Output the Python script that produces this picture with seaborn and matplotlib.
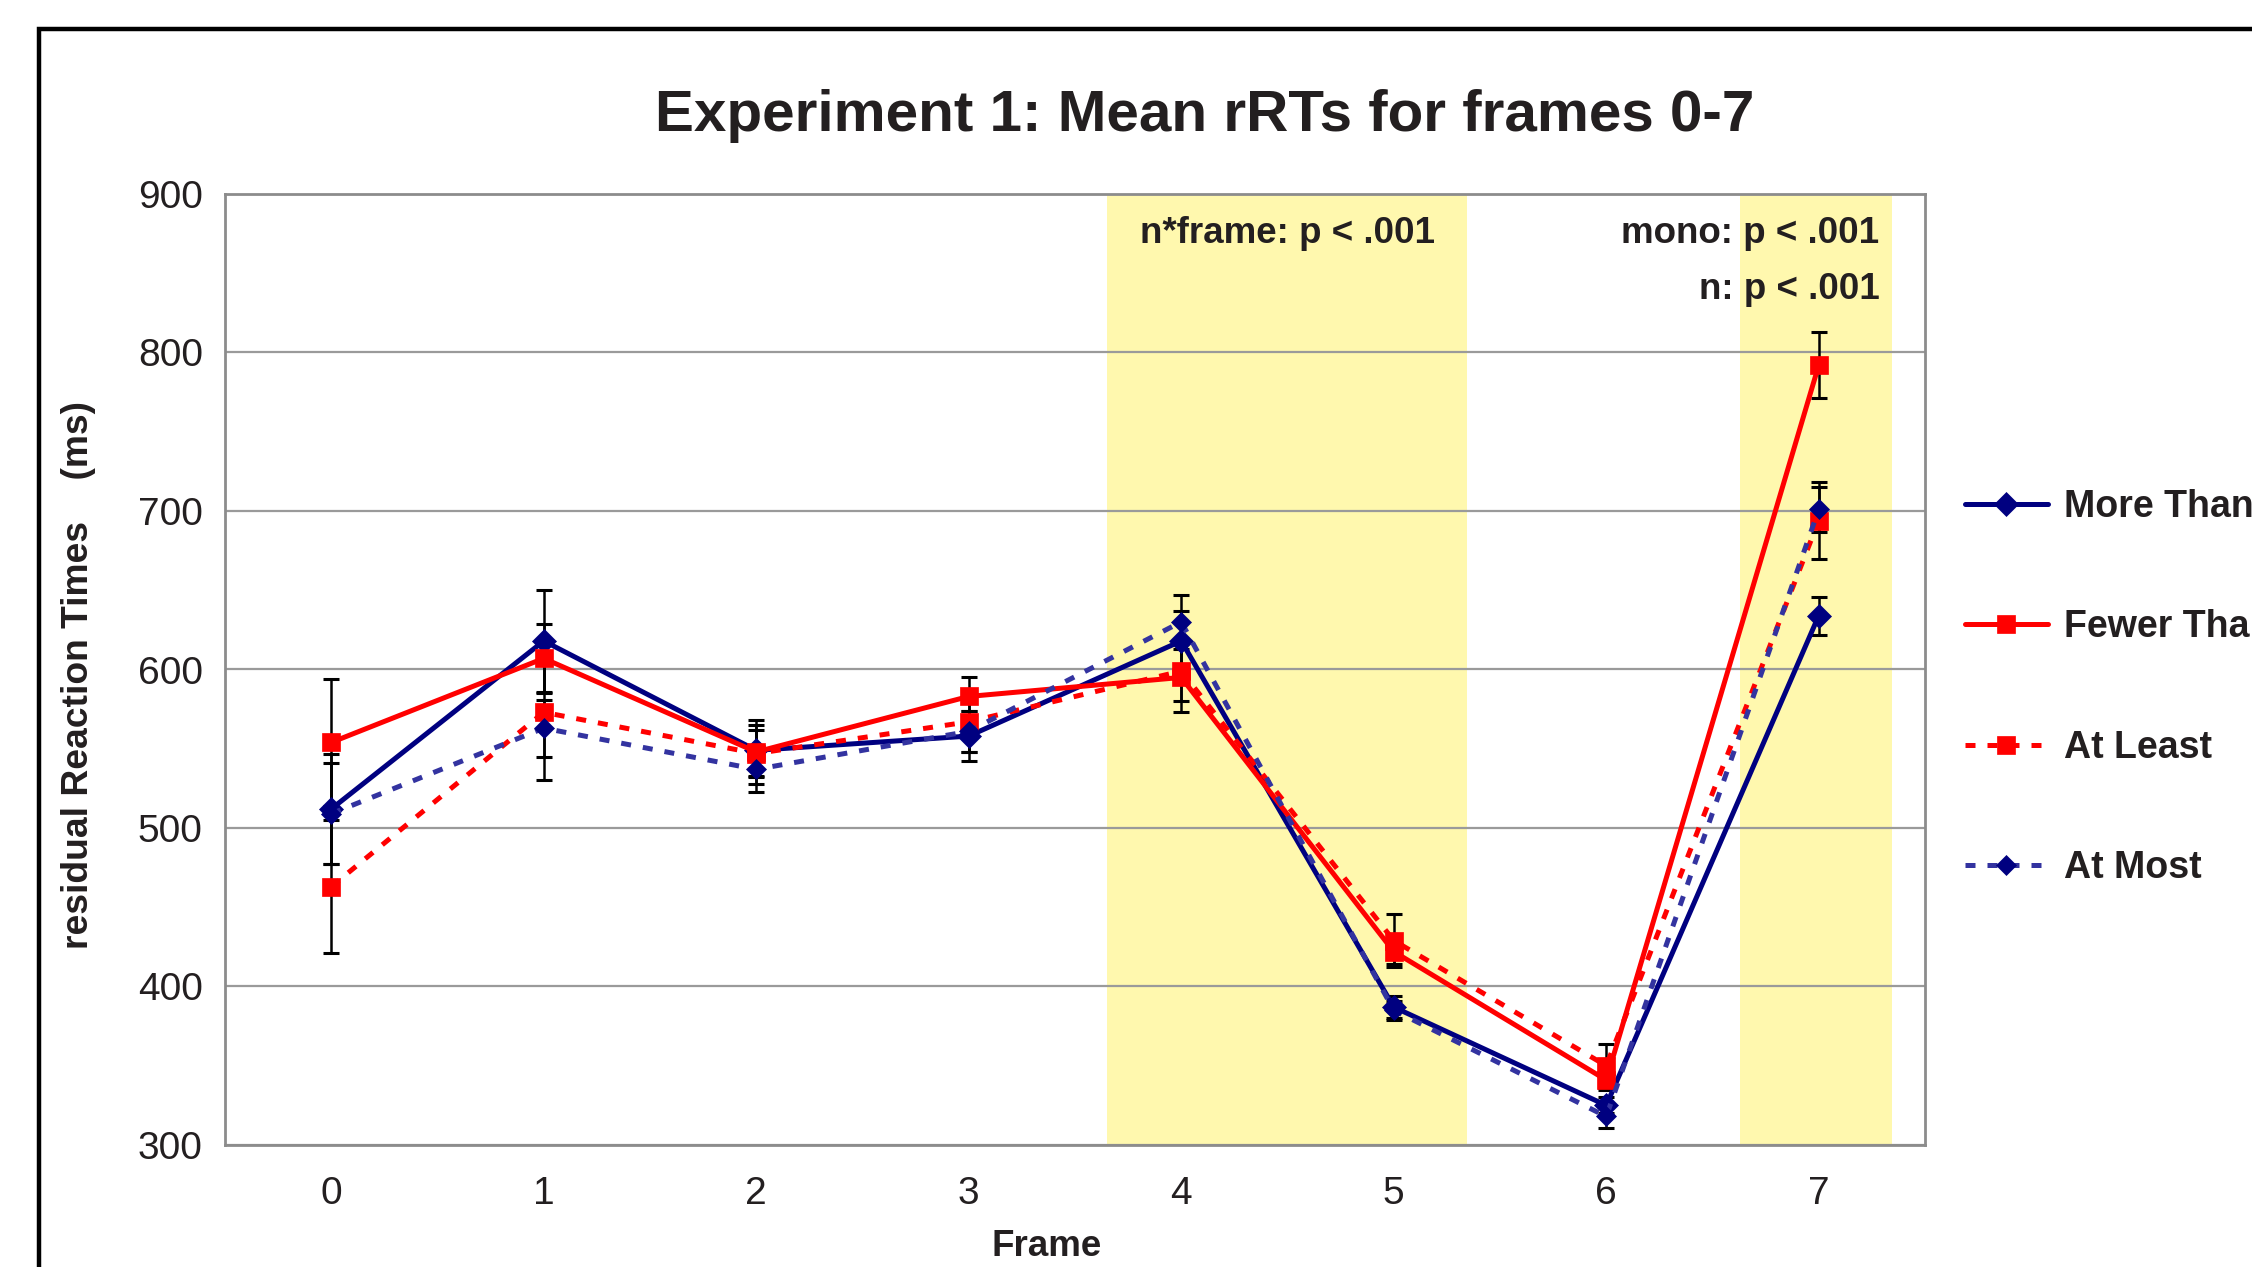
import numpy as np
import pandas as pd
import matplotlib
matplotlib.use("Agg")
import matplotlib.pyplot as plt
from matplotlib.patches import Rectangle
import seaborn as sns

# values (ms)
frames = [0, 1, 2, 3, 4, 5, 6, 7]
more_than = [512, 618, 549, 558, 618, 387, 325, 634]
more_than_err = [35, 32, 16, 16, 19, 7, 5, 12]
fewer_than = [554, 607, 548, 583, 595, 422, 341, 792]
fewer_than_err = [40, 22, 20, 12, 22, 8, 6, 21]
at_least = [463, 573, 547, 567, 599, 429, 350, 694]
at_least_err = [42, 43, 15, 19, 19, 17, 14, 24]
at_most = [509, 563, 537, 561, 630, 385, 318, 701]
at_most_err = [32, 18, 14, 13, 17, 6, 7, 14]

series_names = ["More Than", "Fewer Than", "At Least", "At Most"]
shaded_frames = [(3.652, 5.346), (6.63, 7.345)]

navy = "#000080"
red = "#FF0000"
dash_blue = "#3333A0"
yellow = "#FFF8AE"
ink = "#231f20"

sns.set_style("white")
plt.rcParams['font.family'] = ['Liberation Sans', 'DejaVu Sans']

df = pd.DataFrame({
    "frame": frames * 4,
    "rt": more_than + fewer_than + at_least + at_most,
    "err": more_than_err + fewer_than_err + at_least_err + at_most_err,
    "series": np.repeat(series_names, len(frames)),
})

fig = plt.figure(figsize=(22.52, 12.67), dpi=100)
ax = fig.add_axes([225 / 2252, 1 - 1145 / 1267, 1700 / 2252, 951 / 1267])

# outer chart border (cut by the picture edge on right and bottom)
fig.add_artist(Rectangle((39 / 2252, -0.2), 1.2, 1.2 - 29 / 1267,
                         transform=fig.transFigure, fill=False,
                         edgecolor="black", linewidth=3.2))

for lo, hi in shaded_frames:
    ax.axvspan(lo, hi, color=yellow, zorder=0, linewidth=0)

styles = {
    "More Than": dict(color=navy, marker="D", markersize=12, ls="-", mfc=navy),
    "Fewer Than": dict(color=red, marker="s", markersize=12.5, ls="-", mfc=red),
    "At Least": dict(color=red, marker="s", markersize=12.5, ls=(0, (2.0, 2.4)), mfc=red),
    "At Most": dict(color=dash_blue, marker="D", markersize=10, ls=(0, (2.0, 2.4)), mfc=navy),
}

for name in series_names:
    sub = df[df["series"] == name]
    ax.errorbar(sub["frame"], sub["rt"], yerr=sub["err"], fmt="none",
                ecolor="black", elinewidth=1.8, capsize=6, capthick=2.2, zorder=2)

for name in series_names:
    sub = df[df["series"] == name]
    st = styles[name]
    sns.lineplot(x=sub["frame"], y=sub["rt"], ax=ax, color=st["color"],
                 linestyle=st["ls"], linewidth=3.6, marker=st["marker"],
                 markersize=st["markersize"], markerfacecolor=st["mfc"],
                 markeredgecolor=st["mfc"], markeredgewidth=0.5,
                 label=name, zorder=3)

ax.set_xlim(-0.5, 7.5)
ax.set_ylim(300, 900)
ax.set_xticks(frames)
ax.set_xticks(np.arange(-0.5, 8, 1), minor=True)
ax.set_yticks(np.arange(300, 901, 100))
ax.tick_params(axis="x", which="major", length=0, pad=22, labelsize=28, labelcolor=ink)
ax.tick_params(axis="x", which="minor", length=8, width=1.2, color="#8c8c8c", direction="out")
ax.tick_params(axis="y", length=0, pad=16, labelsize=28, labelcolor=ink)
ax.yaxis.grid(True, color="#9a9a9a", linewidth=1.6)
ax.xaxis.grid(False)
ax.set_axisbelow(True)
for sp in ax.spines.values():
    sp.set_color("#8c8c8c")
    sp.set_linewidth(2)

ax.set_xlabel("")
ax.set_ylabel("")
fig.text(1047 / 2252, 1 - 1247 / 1267, "Frame", ha="center", va="center",
         fontsize=26.5, fontweight="bold", color=ink)
fig.text(79 / 2252, 1 - 675 / 1267, "residual Reaction Times    (ms)", ha="center",
         va="center", rotation=90, fontsize=26.8, fontweight="bold", color=ink)
fig.text(1205 / 2252, 1 - 116 / 1267, "Experiment 1: Mean rRTs for frames 0-7",
         ha="center", va="center", fontsize=42, fontweight="bold", color=ink)

ax.text(4.5, 875, "n*frame: p < .001", ha="center", va="center",
        fontsize=26.5, fontweight="bold", color=ink)
ax.text(7.286, 875, "mono: p < .001", ha="right", va="center",
        fontsize=26.5, fontweight="bold", color=ink)
ax.text(7.286, 840, "n: p < .001", ha="right", va="center",
        fontsize=26.5, fontweight="bold", color=ink)

handles, labels = ax.get_legend_handles_labels()
leg = ax.legend(handles, labels, loc="upper left", bbox_to_anchor=(1965 / 2252, 1 - 489 / 1267),
                bbox_transform=fig.transFigure, frameon=False, fontsize=27,
                handlelength=2.2, handletextpad=0.45, labelspacing=2.25,
                borderpad=0, borderaxespad=0)
for t in leg.get_texts():
    t.set_fontweight("bold")
    t.set_color(ink)

fig.savefig("out.png", dpi=100)
